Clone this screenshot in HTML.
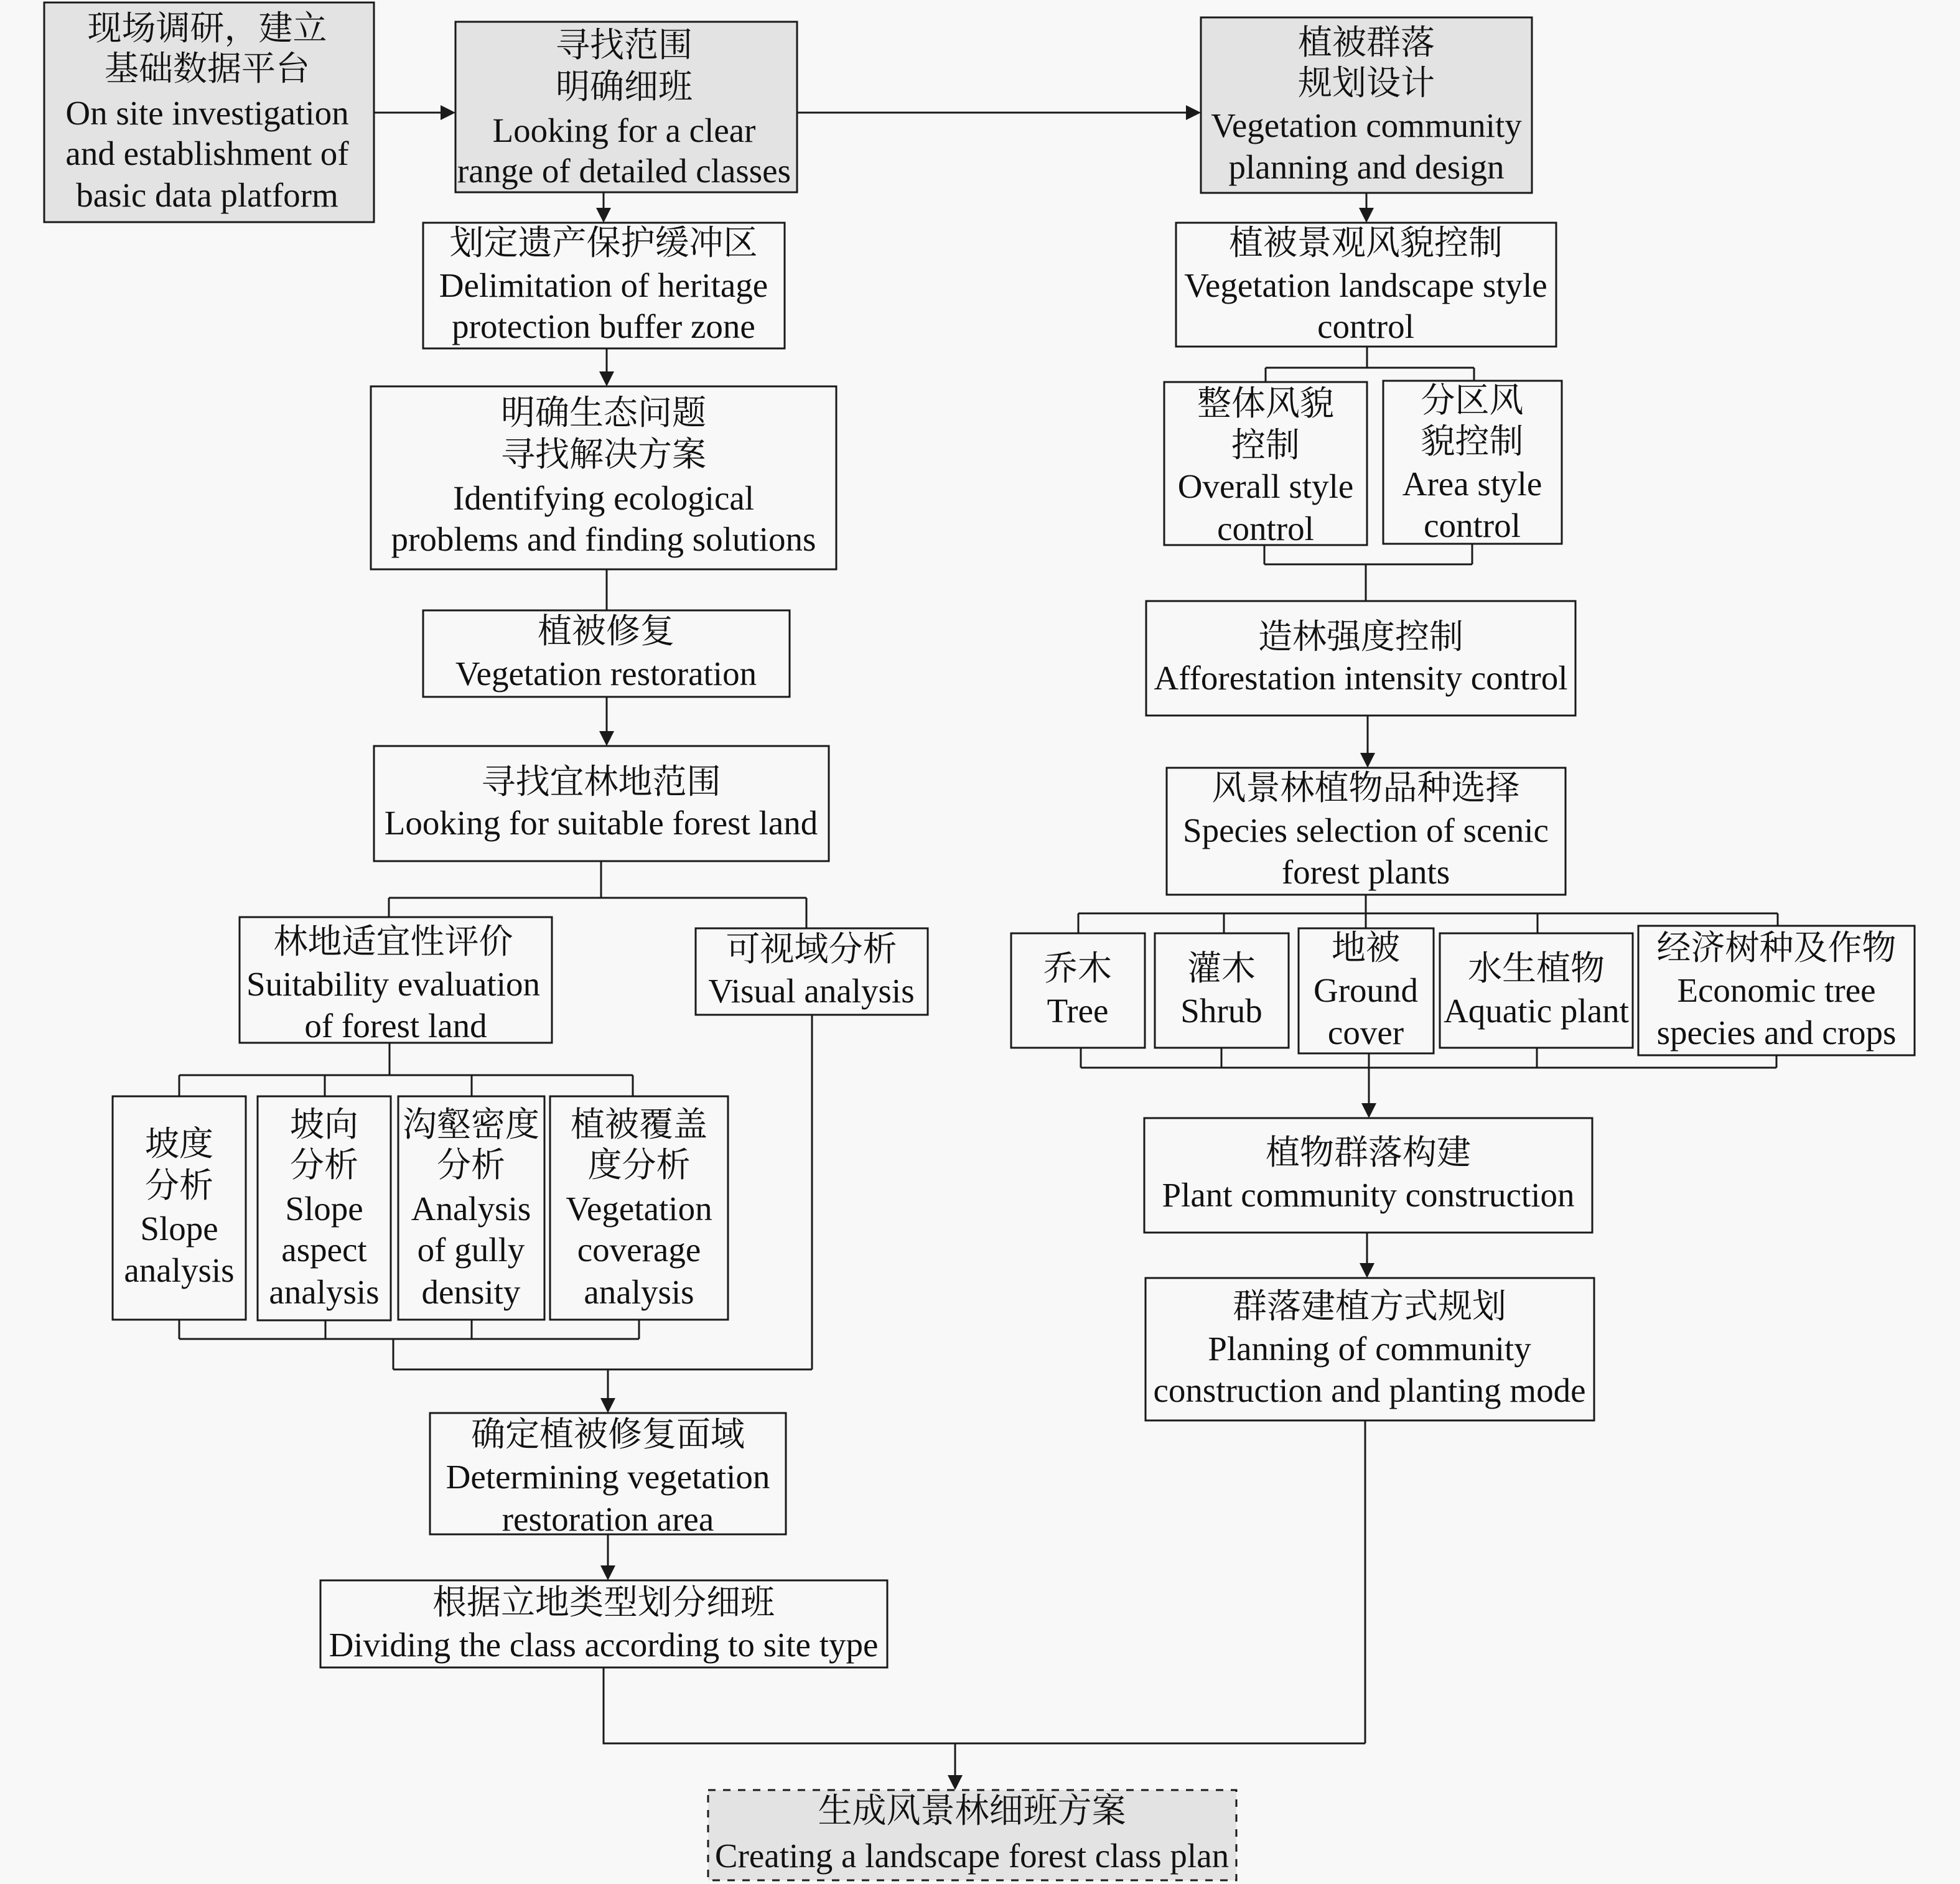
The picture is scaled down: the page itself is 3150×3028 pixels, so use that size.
<!DOCTYPE html>
<html><head><meta charset="utf-8"><style>
html,body{margin:0;padding:0;background:#f8f8f8;}
svg{display:block;}
text{font-family:"Liberation Serif","Noto Serif CJK SC","Noto Serif CJK JP",serif;font-size:55px;text-anchor:middle;fill:#111;}
.b{fill:#f8f8f8;stroke:#1a1a1a;stroke-width:3;}
.g{fill:#e3e3e3;stroke:#1a1a1a;stroke-width:3;}
.d{fill:#e3e3e3;stroke:#1a1a1a;stroke-width:3;stroke-dasharray:12 12;}
.l{fill:none;stroke:#1a1a1a;stroke-width:3;}
.a{fill:#1a1a1a;}
</style></head><body>
<svg width="3150" height="3028" viewBox="0 0 3150 3028" xmlns="http://www.w3.org/2000/svg">
<rect x="0" y="0" width="3150" height="3028" fill="#f8f8f8"/>

<!-- connectors -->
<g class="l">
<path d="M601 181 H710"/>
<path d="M1281 181 H1908"/>
<path d="M970 309 V338"/>
<path d="M975 560 V600"/>
<path d="M975 915 V981"/>
<path d="M975 1120 V1178"/>
<path d="M966 1384 V1443 M625 1443 H1296 M625 1443 V1474 M1296 1443 V1492"/>
<path d="M626 1676 V1728 M288 1728 H1017 M288 1728 V1762 M522 1728 V1762 M758 1728 V1762 M1017 1728 V1762"/>
<path d="M288 2121 V2152 M523 2122 V2152 M758 2121 V2152 M1027 2121 V2152 M288 2152 H1027 M632 2152 V2201"/>
<path d="M1305 1631 V2201 M632 2201 H1305"/>
<path d="M977 2201 V2250"/>
<path d="M977 2466 V2519"/>
<path d="M970 2680 V2802 H2194 M2194 2283 V2802"/>
<path d="M1535 2802 V2856"/>
<path d="M2196 310 V338"/>
<path d="M2197 557 V591 M2034 591 H2369 M2034 591 V614 M2369 591 V612"/>
<path d="M2032 876 V907 M2366 874 V907 M2032 907 H2366 M2195 907 V966"/>
<path d="M2198 1150 V1213"/>
<path d="M2195 1438 V1468 M1733 1468 H2857 M1733 1468 V1500 M1967 1468 V1500 M2195 1468 V1492 M2471 1468 V1500 M2857 1468 V1488"/>
<path d="M1737 1684 V1716 M1963 1684 V1716 M2470 1684 V1716 M2855 1696 V1716 M1737 1716 H2855"/>
<path d="M2200 1693 V1776"/>
<path d="M2197 1981 V2033"/>
</g>
<!-- arrowheads -->
<g class="a">
<polygon points="708,169 708,193 732,181"/>
<polygon points="1906,169 1906,193 1930,181"/>
<polygon points="958,334 982,334 970,358"/>
<polygon points="963,597 987,597 975,621"/>
<polygon points="963,1175 987,1175 975,1199"/>
<polygon points="965,2247 989,2247 977,2271"/>
<polygon points="965,2516 989,2516 977,2540"/>
<polygon points="1523,2853 1547,2853 1535,2877"/>
<polygon points="2184,334 2208,334 2196,358"/>
<polygon points="2186,1210 2210,1210 2198,1234"/>
<polygon points="2188,1773 2212,1773 2200,1797"/>
<polygon points="2185,2030 2209,2030 2197,2054"/>
</g>

<!-- boxes -->
<rect class="g" x="71" y="4" width="530" height="353"/>
<rect class="g" x="732" y="35" width="549" height="274"/>
<rect class="g" x="1930" y="28" width="532" height="282"/>
<rect class="b" x="680" y="358" width="581" height="202"/>
<rect class="b" x="596" y="621" width="748" height="294"/>
<rect class="b" x="680" y="981" width="589" height="139"/>
<rect class="b" x="601" y="1199" width="731" height="185"/>
<rect class="b" x="385" y="1474" width="502" height="202"/>
<rect class="b" x="1118" y="1492" width="373" height="139"/>
<rect class="b" x="181" y="1762" width="214" height="359"/>
<rect class="b" x="414" y="1762" width="214" height="360"/>
<rect class="b" x="640" y="1762" width="235" height="359"/>
<rect class="b" x="884" y="1762" width="286" height="359"/>
<rect class="b" x="691" y="2271" width="572" height="195"/>
<rect class="b" x="515" y="2540" width="911" height="140"/>
<rect class="d" x="1138" y="2877" width="849" height="145"/>
<rect class="b" x="1890" y="358" width="611" height="199"/>
<rect class="b" x="1871" y="614" width="326" height="262"/>
<rect class="b" x="2223" y="612" width="287" height="262"/>
<rect class="b" x="1842" y="966" width="690" height="184"/>
<rect class="b" x="1875" y="1234" width="641" height="204"/>
<rect class="b" x="1625" y="1500" width="215" height="184"/>
<rect class="b" x="1856" y="1500" width="215" height="184"/>
<rect class="b" x="2087" y="1492" width="217" height="201"/>
<rect class="b" x="2314" y="1500" width="310" height="184"/>
<rect class="b" x="2633" y="1488" width="444" height="208"/>
<rect class="b" x="1839" y="1797" width="720" height="184"/>
<rect class="b" x="1841" y="2054" width="721" height="229"/>

<!-- texts -->
<text x="333" y="64">现场调研，建立</text>
<text x="333" y="129">基础数据平台</text>
<text x="333" y="200">On site investigation</text>
<text x="333" y="265">and establishment of</text>
<text x="333" y="332">basic data platform</text>

<text x="1003" y="91">寻找范围</text>
<text x="1003" y="158">明确细班</text>
<text x="1003" y="228">Looking for a clear</text>
<text x="1003" y="293">range of detailed classes</text>

<text x="2196" y="87">植被群落</text>
<text x="2196" y="152">规划设计</text>
<text x="2196" y="220">Vegetation community</text>
<text x="2196" y="287">planning and design</text>

<text x="970" y="409">划定遗产保护缓冲区</text>
<text x="970" y="477">Delimitation of heritage</text>
<text x="970" y="543">protection buffer zone</text>

<text x="970" y="682">明确生态问题</text>
<text x="970" y="749">寻找解决方案</text>
<text x="970" y="819">Identifying ecological</text>
<text x="970" y="885">problems and finding solutions</text>

<text x="974" y="1033">植被修复</text>
<text x="974" y="1101">Vegetation restoration</text>

<text x="966" y="1275">寻找宜林地范围</text>
<text x="966" y="1341">Looking for suitable forest land</text>

<text x="632" y="1532">林地适宜性评价</text>
<text x="632" y="1600">Suitability evaluation</text>
<text x="636" y="1667">of forest land</text>

<text x="1304" y="1544">可视域分析</text>
<text x="1304" y="1611">Visual analysis</text>

<text x="288" y="1857">坡度</text>
<text x="288" y="1924">分析</text>
<text x="288" y="1993">Slope</text>
<text x="288" y="2060">analysis</text>

<text x="521" y="1826">坡向</text>
<text x="521" y="1891">分析</text>
<text x="521" y="1961">Slope</text>
<text x="521" y="2027">aspect</text>
<text x="521" y="2095">analysis</text>

<text x="757" y="1826">沟壑密度</text>
<text x="757" y="1891">分析</text>
<text x="757" y="1961">Analysis</text>
<text x="757" y="2027">of gully</text>
<text x="757" y="2095">density</text>

<text x="1027" y="1826">植被覆盖</text>
<text x="1027" y="1891">度分析</text>
<text x="1027" y="1961">Vegetation</text>
<text x="1027" y="2027">coverage</text>
<text x="1027" y="2095">analysis</text>

<text x="977" y="2324">确定植被修复面域</text>
<text x="977" y="2392">Determining vegetation</text>
<text x="977" y="2460">restoration area</text>

<text x="970" y="2594">根据立地类型划分细班</text>
<text x="970" y="2662">Dividing the class according to site type</text>

<text x="1562" y="2929">生成风景林细班方案</text>
<text x="1562" y="3001">Creating a landscape forest class plan</text>

<text x="2195" y="409">植被景观风貌控制</text>
<text x="2195" y="477">Vegetation landscape style</text>
<text x="2195" y="543">control</text>

<text x="2034" y="667">整体风貌</text>
<text x="2034" y="734">控制</text>
<text x="2034" y="800">Overall style</text>
<text x="2034" y="868">control</text>

<text x="2366" y="662">分区风</text>
<text x="2366" y="728">貌控制</text>
<text x="2366" y="796">Area style</text>
<text x="2366" y="863">control</text>

<text x="2187" y="1042">造林强度控制</text>
<text x="2187" y="1108">Afforestation intensity control</text>

<text x="2195" y="1285">风景林植物品种选择</text>
<text x="2195" y="1353">Species selection of scenic</text>
<text x="2195" y="1420">forest plants</text>

<text x="1732" y="1575">乔木</text>
<text x="1732" y="1643">Tree</text>

<text x="1963" y="1575">灌木</text>
<text x="1963" y="1643">Shrub</text>

<text x="2195" y="1542">地被</text>
<text x="2195" y="1610">Ground</text>
<text x="2195" y="1678">cover</text>

<text x="2469" y="1575">水生植物</text>
<text x="2469" y="1643">Aquatic plant</text>

<text x="2855" y="1542">经济树种及作物</text>
<text x="2855" y="1610">Economic tree</text>
<text x="2855" y="1678">species and crops</text>

<text x="2199" y="1871">植物群落构建</text>
<text x="2199" y="1939">Plant community construction</text>

<text x="2201" y="2118">群落建植方式规划</text>
<text x="2201" y="2186">Planning of community</text>
<text x="2201" y="2253">construction and planting mode</text>
</svg>
</body></html>
